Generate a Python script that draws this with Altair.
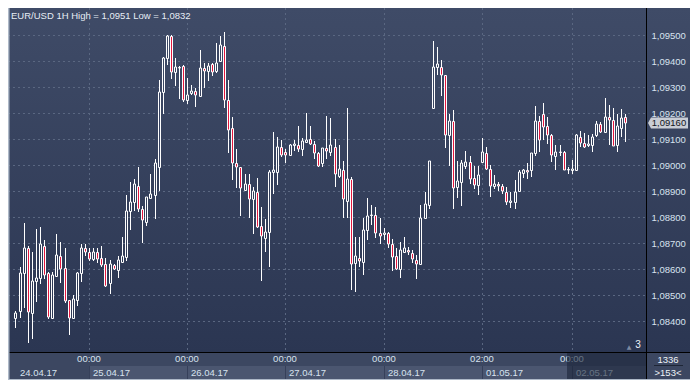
import altair as alt
import pandas as pd

# ---------------- data (EUR/USD 1H candles) ----------------
open_ = [1.08412, 1.08440, 1.08586, 1.08683, 1.08431, 1.08554, 1.08568, 1.08690, 1.08586, 1.08415,
         1.08574, 1.08650, 1.08605, 1.08481, 1.08412, 1.08481, 1.08586, 1.08681, 1.08665, 1.08641,
         1.08665, 1.08645, 1.08619, 1.08546, 1.08617, 1.08598, 1.08629, 1.08647, 1.08824, 1.08858,
         1.08919, 1.08830, 1.08783, 1.08875, 1.08884, 1.08992, 1.09280, 1.09411, 1.09495, 1.09355,
         1.09377, 1.09380, 1.09249, 1.09275, 1.09285, 1.09265, 1.09371, 1.09362, 1.09387, 1.09359,
         1.09399, 1.09456, 1.09249, 1.09140, 1.09008, 1.08992, 1.08903, 1.08927, 1.08870, 1.08897,
         1.08765, 1.08720, 1.08744, 1.08973, 1.08972, 1.09069, 1.09048, 1.09039, 1.09075, 1.09075,
         1.09061, 1.09090, 1.09101, 1.09079, 1.09046, 1.09006, 1.09067, 1.09048, 1.09069, 1.08957,
         1.08979, 1.08862, 1.08945, 1.08625, 1.08643, 1.08629, 1.08751, 1.08808, 1.08810, 1.08741,
         1.08736, 1.08738, 1.08696, 1.08650, 1.08602, 1.08668, 1.08675, 1.08662, 1.08635, 1.08619,
         1.08796, 1.08848, 1.09219, 1.09375, 1.09377, 1.09344, 1.09116, 1.09170, 1.08915, 1.08933,
         1.08997, 1.09010, 1.08951, 1.08924, 1.09012, 1.09046, 1.08984, 1.08919, 1.08927, 1.08919,
         1.08897, 1.08860, 1.08860, 1.08899, 1.08970, 1.08982, 1.08982, 1.09046, 1.09170, 1.09195,
         1.09150, 1.09116, 1.09034, 1.09048, 1.09051, 1.08984, 1.08982, 1.08982, 1.09109, 1.09085,
         1.09075, 1.09077, 1.09116, 1.09156, 1.09125, 1.09185, 1.09174, 1.09077, 1.09143, 1.09185]
high_ = [1.08442, 1.08607, 1.08777, 1.08690, 1.08668, 1.08754, 1.08763, 1.08712, 1.08591, 1.08588,
         1.08736, 1.08704, 1.08683, 1.08482, 1.08501, 1.08590, 1.08698, 1.08698, 1.08683, 1.08683,
         1.08683, 1.08690, 1.08645, 1.08635, 1.08620, 1.08653, 1.08723, 1.08884, 1.08933, 1.08945,
         1.08992, 1.08844, 1.08878, 1.08966, 1.09022, 1.09325, 1.09416, 1.09499, 1.09499, 1.09412,
         1.09380, 1.09382, 1.09335, 1.09307, 1.09295, 1.09442, 1.09393, 1.09393, 1.09392, 1.09466,
         1.09493, 1.09510, 1.09325, 1.09185, 1.09061, 1.08992, 1.08967, 1.08967, 1.08915, 1.08951,
         1.08838, 1.08792, 1.08982, 1.09128, 1.09106, 1.09095, 1.09061, 1.09081, 1.09094, 1.09150,
         1.09103, 1.09201, 1.09150, 1.09091, 1.09048, 1.09067, 1.09186, 1.09182, 1.09101, 1.09077,
         1.09015, 1.09219, 1.08955, 1.08723, 1.08723, 1.08796, 1.08872, 1.08846, 1.08838, 1.08796,
         1.08760, 1.08744, 1.08716, 1.08683, 1.08704, 1.08723, 1.08686, 1.08674, 1.08656, 1.08846,
         1.08897, 1.09015, 1.09474, 1.09453, 1.09401, 1.09346, 1.09197, 1.09211, 1.09015, 1.09018,
         1.09055, 1.09033, 1.08996, 1.08996, 1.09103, 1.09069, 1.09000, 1.08960, 1.08935, 1.08927,
         1.08915, 1.08897, 1.08942, 1.08982, 1.08984, 1.09006, 1.09046, 1.09225, 1.09189, 1.09237,
         1.09185, 1.09118, 1.09077, 1.09077, 1.09053, 1.08994, 1.09021, 1.09118, 1.09130, 1.09122,
         1.09116, 1.09118, 1.09167, 1.09164, 1.09255, 1.09229, 1.09219, 1.09197, 1.09215, 1.09197]
low_ = [1.08376, 1.08412, 1.08452, 1.08319, 1.08331, 1.08473, 1.08544, 1.08562, 1.08410, 1.08409,
        1.08569, 1.08546, 1.08471, 1.08347, 1.08410, 1.08459, 1.08550, 1.08650, 1.08631, 1.08631,
        1.08623, 1.08610, 1.08532, 1.08505, 1.08598, 1.08568, 1.08624, 1.08632, 1.08751, 1.08824,
        1.08820, 1.08702, 1.08765, 1.08875, 1.08793, 1.08900, 1.09195, 1.09383, 1.09328, 1.09304,
        1.09253, 1.09240, 1.09235, 1.09268, 1.09223, 1.09262, 1.09296, 1.09322, 1.09343, 1.09353,
        1.09395, 1.09219, 1.09045, 1.08943, 1.08911, 1.08804, 1.08899, 1.08797, 1.08736, 1.08760,
        1.08554, 1.08665, 1.08608, 1.08887, 1.08924, 1.09030, 1.09006, 1.09036, 1.09052, 1.09051,
        1.09034, 1.09088, 1.09077, 1.09024, 1.08994, 1.08994, 1.09024, 1.09033, 1.08917, 1.08950,
        1.08797, 1.08797, 1.08519, 1.08513, 1.08607, 1.08578, 1.08714, 1.08769, 1.08720, 1.08696,
        1.08711, 1.08683, 1.08595, 1.08598, 1.08568, 1.08665, 1.08656, 1.08623, 1.08564, 1.08615,
        1.08793, 1.08830, 1.09213, 1.09344, 1.09264, 1.09067, 1.08997, 1.08830, 1.08875, 1.08844,
        1.08984, 1.08927, 1.08909, 1.08884, 1.09012, 1.08982, 1.08878, 1.08909, 1.08899, 1.08887,
        1.08848, 1.08836, 1.08830, 1.08897, 1.08951, 1.08945, 1.08955, 1.09034, 1.09051, 1.09097,
        1.09079, 1.09012, 1.08982, 1.09033, 1.08980, 1.08966, 1.08966, 1.08980, 1.09069, 1.09067,
        1.09069, 1.09048, 1.09109, 1.09122, 1.09122, 1.09077, 1.09071, 1.09048, 1.09109, 1.09089]
close_ = [1.08434, 1.08586, 1.08681, 1.08437, 1.08554, 1.08568, 1.08696, 1.08580, 1.08416, 1.08577,
          1.08656, 1.08602, 1.08479, 1.08413, 1.08485, 1.08586, 1.08681, 1.08665, 1.08641, 1.08665,
          1.08641, 1.08617, 1.08537, 1.08619, 1.08602, 1.08634, 1.08650, 1.08824, 1.08860, 1.08927,
          1.08830, 1.08791, 1.08878, 1.08890, 1.09006, 1.09280, 1.09411, 1.09495, 1.09355, 1.09376,
          1.09371, 1.09249, 1.09270, 1.09285, 1.09268, 1.09371, 1.09362, 1.09380, 1.09355, 1.09393,
          1.09460, 1.09249, 1.09134, 1.09008, 1.08994, 1.08911, 1.08927, 1.08870, 1.08900, 1.08763,
          1.08726, 1.08744, 1.08973, 1.08979, 1.09069, 1.09039, 1.09039, 1.09077, 1.09079, 1.09061,
          1.09091, 1.09095, 1.09079, 1.09046, 1.08997, 1.09065, 1.09055, 1.09077, 1.08966, 1.08984,
          1.08870, 1.08945, 1.08619, 1.08650, 1.08632, 1.08751, 1.08805, 1.08810, 1.08738, 1.08729,
          1.08741, 1.08696, 1.08647, 1.08602, 1.08674, 1.08681, 1.08665, 1.08641, 1.08619, 1.08796,
          1.08850, 1.09015, 1.09375, 1.09386, 1.09344, 1.09116, 1.09170, 1.08911, 1.08939, 1.09006,
          1.09010, 1.08945, 1.08924, 1.08960, 1.09051, 1.08984, 1.08919, 1.08927, 1.08919, 1.08899,
          1.08860, 1.08862, 1.08897, 1.08973, 1.08982, 1.08972, 1.09046, 1.09170, 1.09094, 1.09146,
          1.09116, 1.09040, 1.09051, 1.09051, 1.08982, 1.08982, 1.08984, 1.09116, 1.09085, 1.09069,
          1.09079, 1.09109, 1.09156, 1.09128, 1.09185, 1.09174, 1.09073, 1.09149, 1.09182, 1.09160]

price_levels = [1.084, 1.085, 1.086, 1.087, 1.088, 1.089, 1.090, 1.091, 1.092, 1.093, 1.094, 1.095]
day_break_idx = [18, 42, 66, 90, 114, 136]
time_labels = ["00:00", "00:00", "00:00", "00:00", "02:00", "00:00"]
date_labels = ["24.04.17", "25.04.17", "26.04.17", "27.04.17", "28.04.17", "01.05.17", "02.05.17"]
date_pos = [0.2, 18, 42, 66, 90, 114, 136]
symbol = "EUR/USD 1H"
total_bars = "1336"
visible_bars = ">153<"
shift_marker = "3"

# ---------------- layout / style ----------------
W, H = 638, 344       # plot area
RP, BP = 44, 28       # right price panel, bottom time panel
FONT = "Liberation Sans"
BG_TOP, BG_BOT = "#3f4b67", "#2b3652"
GRID = "#5a6781"
RED = "#e3173e"
TXT = "#d8e3ef"

df = pd.DataFrame({"i": list(range(len(open_))), "open": open_, "high": high_,
                   "low": low_, "close": close_})
df["mid"] = (df["open"] + df["close"]) / 2

# round=True snaps positions to whole pixels; the 0.5 offsets below keep 1px strokes crisp
xs = alt.Scale(domain=[-0.6, 152.9], nice=False, zero=False, round=True)
ys = alt.Scale(domain=[1.08283, 1.09602], nice=False, zero=False, round=True)
yaxis = alt.Axis(orient="right", values=price_levels, grid=False, domain=False, ticks=False,
                 labelPadding=5, labelFont=FONT, labelFontSize=9.5, labelColor=TXT,
                 labelExpr="replace(format(datum.value, '.5f'), '.', ',')",
                 labelOverlap=False, labelBound=False, title=None, zindex=1)

one = pd.DataFrame({"k": [0]})
grad = alt.LinearGradient(gradient="linear",
                          stops=[alt.GradientStop(color=BG_TOP, offset=0),
                                 alt.GradientStop(color=BG_BOT, offset=1)],
                          x1=0, x2=0, y1=0, y2=1)

bg = alt.Chart(one).mark_rect(color=grad).encode(
    x=alt.value(0), x2=alt.value(W + RP), y=alt.value(0), y2=alt.value(H))

panel_b = alt.Chart(one).mark_rect(color="#3c4761").encode(
    x=alt.value(0), x2=alt.value(W + RP), y=alt.value(H), y2=alt.value(H + BP))

date_box = alt.Chart(pd.DataFrame({"s": [day_break_idx[0]]})).mark_rect(color="#4b5670").encode(
    x=alt.X("s:Q", scale=xs, axis=None), x2=alt.value(W),
    y=alt.value(H + 14), y2=alt.value(H + BP - 1))

breaks = pd.DataFrame({"i": day_break_idx, "lab": time_labels})
sep = alt.Chart(breaks).mark_rule(color="#36405a", strokeWidth=1, xOffset=0.5).encode(
    x=alt.X("i:Q", scale=xs, axis=None), y=alt.value(H + 14), y2=alt.value(H + BP - 1))

hgrid = alt.Chart(pd.DataFrame({"level": price_levels})).mark_rule(
    color=GRID, strokeWidth=1, strokeDash=[2, 3], yOffset=0.5).encode(
    y=alt.Y("level:Q", scale=ys, axis=yaxis), x=alt.value(0), x2=alt.value(W))

vgrid = alt.Chart(breaks).mark_rule(color=GRID, strokeWidth=1, strokeDash=[2, 3],
                                    xOffset=0.5).encode(
    x=alt.X("i:Q", scale=xs, axis=None), y=alt.value(0), y2=alt.value(H))

wicks = alt.Chart(df).mark_rule(color="white", strokeWidth=1, xOffset=0.5).encode(
    x=alt.X("i:Q", scale=xs, axis=None),
    y=alt.Y("low:Q", scale=ys, axis=yaxis), y2="high:Q")

bodies = alt.Chart(df).mark_bar(size=2, stroke="white", strokeWidth=1,
                                xOffset=0.5, yOffset=0.5).encode(
    x=alt.X("i:Q", scale=xs, axis=None),
    y=alt.Y("open:Q", scale=ys, axis=yaxis), y2="close:Q",
    fill=alt.condition("datum.close < datum.open", alt.value(RED),
                       alt.Fill("mid:Q", scale=alt.Scale(domain=[1.08283, 1.09602],
                                                         range=[BG_BOT, BG_TOP]), legend=None)))

title_txt = f"{symbol} High = {max(high_):.4f} Low = {min(low_):.4f}".replace(".", ",")
title = alt.Chart(pd.DataFrame({"t": [title_txt]})).mark_text(
    align="left", baseline="middle", font=FONT, fontSize=9.5, color="#e6edf5").encode(
    x=alt.value(3), y=alt.value(8), text="t:N")

shift_tri = alt.Chart(one).mark_text(text="▲", font="DejaVu Sans", fontSize=6,
                                     color="#7d8aa2", align="center", baseline="middle").encode(
    x=alt.value(W - 17), y=alt.value(H - 5))
shift_txt = alt.Chart(pd.DataFrame({"t": [shift_marker]})).mark_text(
    font=FONT, fontSize=10, color="#eef3f8", align="center", baseline="middle").encode(
    x=alt.value(W - 8), y=alt.value(H - 7), text="t:N")

tlabels = alt.Chart(breaks).mark_text(font=FONT, fontSize=9.5, color=TXT,
                                      align="center", baseline="middle").encode(
    x=alt.X("i:Q", scale=xs, axis=None), y=alt.value(H + 7), text="lab:N")

dlabels = alt.Chart(pd.DataFrame({"i": date_pos, "lab": date_labels})).mark_text(
    font=FONT, fontSize=9.5, color=TXT, align="left", baseline="middle", dx=4).encode(
    x=alt.X("i:Q", scale=xs, axis=None), y=alt.value(H + 20.5), text="lab:N")

overlay = alt.Chart(pd.DataFrame({"s": [134.8]})).mark_rect(color="#1b2438", opacity=0.6).encode(
    x=alt.X("s:Q", scale=xs, axis=None), x2=alt.value(W),
    y=alt.value(H + 1), y2=alt.value(H + BP - 1))

div_v = alt.Chart(one).mark_rule(color="black", strokeWidth=1).encode(
    x=alt.value(W + 0.5), y=alt.value(0), y2=alt.value(H + BP))
div_h = alt.Chart(one).mark_rule(color="black", strokeWidth=1).encode(
    x=alt.value(0), x2=alt.value(W + RP), y=alt.value(H + 0.5))
frame_l = alt.Chart(one).mark_rule(color="#aeb9c8", strokeWidth=1.5).encode(
    x=alt.value(0.75), y=alt.value(0), y2=alt.value(H + BP))
frame_b = alt.Chart(one).mark_rule(color="#aeb9c8", strokeWidth=1).encode(
    x=alt.value(0), x2=alt.value(W + RP), y=alt.value(H + BP - 0.5))

last = pd.DataFrame({"p": [close_[-1]], "lab": [f"{close_[-1]:.5f}".replace(".", ",")]})
tag_shape = "M -1 0 L -0.85 -0.275 L 1 -0.275 L 1 0.275 L -0.85 0.275 Z"
tag = alt.Chart(last).mark_point(shape=tag_shape, size=1600, filled=True, opacity=1,
                                 color="#c9cdd5").encode(
    x=alt.value(W + 22), y=alt.Y("p:Q", scale=ys, axis=yaxis))
tag_txt = alt.Chart(last).mark_text(font=FONT, fontSize=9.5, color="#11151d",
                                    align="center", baseline="middle").encode(
    x=alt.value(W + 23), y=alt.Y("p:Q", scale=ys, axis=yaxis), text="lab:N")

corner1 = alt.Chart(pd.DataFrame({"t": [total_bars]})).mark_text(
    font=FONT, fontSize=9.5, color="#eef3f8", align="center", baseline="middle").encode(
    x=alt.value(W + 22), y=alt.value(H + 8), text="t:N")
corner_line = alt.Chart(one).mark_rule(color="#1e2636", strokeWidth=1).encode(
    x=alt.value(W + 8), x2=alt.value(W + 37), y=alt.value(H + 13.5))
corner2 = alt.Chart(pd.DataFrame({"t": [visible_bars]})).mark_text(
    font=FONT, fontSize=9.5, color="#eef3f8", align="center", baseline="middle").encode(
    x=alt.value(W + 22), y=alt.value(H + 20.5), text="t:N")

chart = alt.layer(
    bg, panel_b, date_box, sep, hgrid, vgrid, wicks, bodies, title, shift_tri, shift_txt,
    tlabels, dlabels, overlay, div_v, div_h, frame_l, frame_b, tag, tag_txt,
    corner1, corner_line, corner2
).properties(
    width=W, height=H,
    padding={"left": 0, "top": 0, "right": RP, "bottom": BP},
    autosize=alt.AutoSizeParams(type="none"),
    background="#3a4560",
).configure_view(stroke=None)

chart.save("out.html", embed_options={"renderer": "svg", "actions": False})
